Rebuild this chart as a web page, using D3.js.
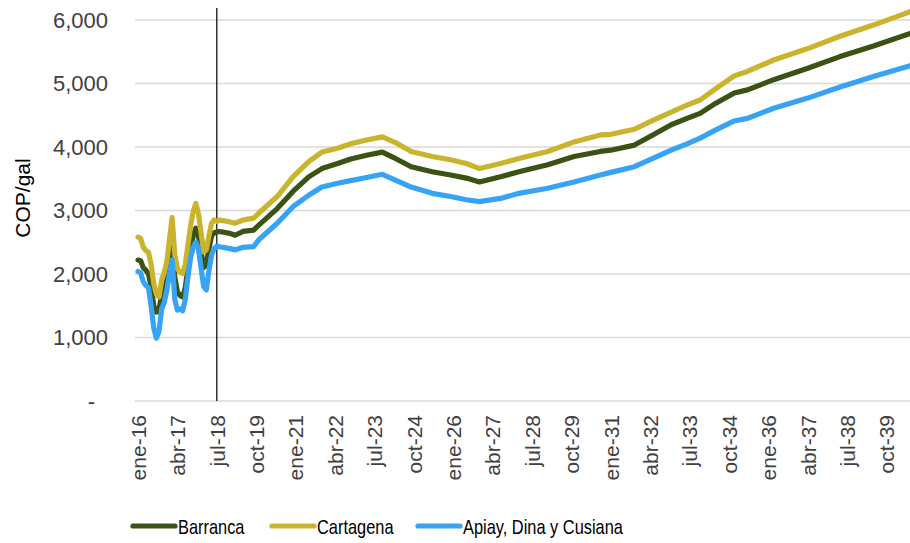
<!DOCTYPE html>
<html>
<head>
<meta charset="utf-8">
<script src="https://cdn.jsdelivr.net/npm/d3@7"></script>
<style>
  body { margin: 0; background: #fff; }
  svg { display: block; }
</style>
</head>
<body>
<svg width="910" height="543"></svg>
<script>
// monthly history to jul-18, then points
var fechas = [
  "2016-01","2016-02","2016-03","2016-04","2016-05","2016-06","2016-07","2016-08","2016-09","2016-10","2016-11","2016-12",
  "2017-01","2017-02","2017-03","2017-04","2017-05","2017-06","2017-07","2017-08","2017-09","2017-10","2017-11","2017-12",
  "2018-01","2018-02","2018-03","2018-04","2018-05","2018-06","2018-07",
  "2018-08","2018-12","2019-02","2019-05","2019-09","2019-11","2020-06","2020-12","2021-06","2021-11",
  "2022-05","2022-10","2023-04","2023-10","2024-03","2024-09","2025-05","2025-12","2026-06","2026-11",
  "2027-07","2028-02","2029-01","2029-11","2030-09","2031-01","2031-10","2032-05","2032-12","2033-06",
  "2033-11","2034-05","2034-12","2035-05","2036-03","2037-04","2038-04","2039-05","2040-07"
]

var barranca = [
  2220,2210,2100,2060,2000,1800,1500,1400,1420,1700,1780,1950,
  2200,2480,1950,1720,1660,1640,1780,2100,2400,2600,2720,2600,
  2350,2100,2150,2400,2600,2650,2660,
  2670,2640,2610,2670,2690,2770,3030,3300,3530,3660,
  3740,3810,3870,3920,3820,3690,3610,3560,3510,3450,
  3530,3610,3720,3850,3930,3950,4030,4190,4350,4450,
  4530,4690,4850,4900,5060,5240,5420,5590,5790
]

var cartagena = [
  2580,2560,2420,2370,2340,2150,1850,1680,1640,1900,2030,2200,
  2550,2890,2300,2080,2030,2010,2150,2450,2750,2980,3110,2950,
  2650,2350,2380,2600,2800,2850,2830,
  2850,2820,2800,2850,2880,2960,3220,3530,3770,3920,
  3980,4050,4110,4160,4070,3930,3850,3800,3740,3660,
  3740,3820,3930,4080,4190,4200,4280,4420,4550,4660,
  4740,4920,5120,5190,5370,5550,5740,5920,6130
]

var apiay = [
  2040,2020,1880,1820,1780,1500,1150,990,1100,1450,1550,1750,
  2000,2220,1600,1430,1450,1420,1600,1950,2250,2420,2500,2400,
  2100,1800,1750,2050,2300,2400,2440,
  2430,2400,2380,2420,2430,2540,2800,3060,3240,3370,
  3430,3470,3520,3570,3480,3370,3270,3220,3170,3140,
  3190,3270,3350,3450,3560,3600,3690,3820,3950,4050,
  4140,4270,4410,4450,4610,4770,4940,5110,5280
]

var etiquetas = ["ene-16","abr-17","jul-18","oct-19","ene-21","abr-22","jul-23","oct-24","ene-26","abr-27",
  "jul-28","oct-29","ene-31","abr-32","jul-33","oct-34","ene-36","abr-37","jul-38","oct-39"]

var series = [
  { name: "Barranca", values: barranca, color: "#3a5214" },
  { name: "Cartagena", values: cartagena, color: "#cab42d" },
  { name: "Apiay, Dina y Cusiana", values: apiay, color: "#37a3f5" }
]

var svg = d3.select("svg")
  , font = "'Liberation Sans', Arial, sans-serif"
  , m = { left: 135, right: 910, top: 20, bottom: 401 }

var mes = fechas.map(function (f) {
  var p = f.split("-")
  return (+p[0] - 2016) * 12 + (+p[1] - 1)
})

var x = d3.scaleLinear().domain([0, 300]).range([138, 926])
var y = d3.scaleLinear().domain([0, 6000]).range([m.bottom, m.top])

svg.append("clipPath").attr("id", "clip")
  .append("rect").attr("x", m.left).attr("y", 0).attr("width", m.right - m.left).attr("height", 543)

// grid
svg.append("g").selectAll("line").data(y.ticks(6)).enter().append("line")
  .attr("x1", m.left).attr("x2", m.right)
  .attr("y1", function (d) { return y(d) }).attr("y2", function (d) { return y(d) })
  .attr("stroke", "#d9d9d9").attr("stroke-width", 1.3)

// y axis labels
var ya = svg.append("g").attr("transform", "translate(108,0)")
  .call(d3.axisLeft(y).ticks(6).tickSize(0).tickPadding(0)
    .tickFormat(function (d) { return d === 0 ? "-" : d3.format(",")(d) }))
ya.select(".domain").remove()
ya.selectAll("text").attr("font-family", font).attr("font-size", 22).attr("fill", "#404040")
  .attr("x", function (d) { return d === 0 ? -13 : 0 })

// x axis labels
var xa = svg.append("g").attr("transform", "translate(0," + m.bottom + ")")
  .call(d3.axisBottom(x).tickValues(d3.range(0, 300, 15)).tickSize(0)
    .tickFormat(function (d, i) { return etiquetas[i] }))
xa.select(".domain").remove()
xa.selectAll("text")
  .attr("font-family", font).attr("font-size", 21).attr("fill", "#404040")
  .attr("transform", "rotate(-90)")
  .attr("text-anchor", "end")
  .attr("x", -14).attr("y", 0).attr("dy", "0.35em")

// jul-18 marker
svg.append("line")
  .attr("x1", x(30)).attr("x2", x(30)).attr("y1", 8).attr("y2", m.bottom)
  .attr("stroke", "#000").attr("stroke-width", 1.2)

var line = d3.line()
  .x(function (d, i) { return x(mes[i]) })
  .y(function (d) { return y(d) })

svg.append("g").attr("clip-path", "url(#clip)")
  .selectAll("path").data(series).enter().append("path")
  .attr("d", function (s) { return line(s.values) })
  .attr("fill", "none")
  .attr("stroke", function (s) { return s.color })
  .attr("stroke-width", 5.2)
  .attr("stroke-linejoin", "round")
  .attr("stroke-linecap", "round")

// y title
svg.append("text")
  .attr("transform", "translate(30,198) rotate(-90)")
  .attr("text-anchor", "middle")
  .attr("font-family", font).attr("font-size", 21).attr("fill", "#000")
  .text("COP/gal")

// legend, squeezed to look like the narrow original face
var lx = [133, 272, 418]
var lg = svg.append("g").selectAll("g").data(series).enter().append("g")
  .attr("transform", function (d, i) { return "translate(" + lx[i] + ",526)" })
lg.append("line").attr("x1", 0).attr("x2", 42)
  .attr("stroke", function (d) { return d.color })
  .attr("stroke-width", 5.2).attr("stroke-linecap", "round")
lg.append("text")
  .attr("transform", "translate(45,7.5) scale(0.82,1)")
  .attr("font-family", font)
  .attr("font-size", 20).attr("fill", "#000")
  .text(function (d) { return d.name })
</script>
</body>
</html>
